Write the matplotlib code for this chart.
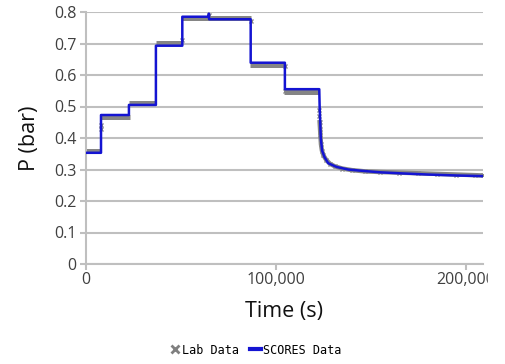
import matplotlib
matplotlib.use("Agg")
import matplotlib.pyplot as plt
from matplotlib.lines import Line2D
from matplotlib.patches import Rectangle
from matplotlib.ticker import FuncFormatter

# SCORES model output (s, bar)
scores_t = [0, 7900, 7900, 22600, 22600, 36800, 36800, 50700, 50700, 64600,
            64700, 64800, 86700, 86700, 104700, 104700, 122800,
            123000, 123300, 123600, 124300, 125500, 127500, 132000, 138000,
            145000, 155000, 165000, 180000, 195000, 209000]
scores_p = [0.353, 0.353, 0.473, 0.473, 0.505, 0.505, 0.693, 0.693, 0.785, 0.785,
            0.795, 0.777, 0.777, 0.639, 0.639, 0.555, 0.555,
            0.50, 0.45, 0.40, 0.36, 0.34, 0.32, 0.308, 0.300,
            0.296, 0.291, 0.288, 0.284, 0.281, 0.279]

# lab pressure holds: start, end, level
lab_start = [0, 7900, 22600, 36600, 50600, 86300, 104500]
lab_end = [7600, 23000, 36900, 50800, 86700, 104800, 122900]
lab_level = [0.359, 0.468, 0.512, 0.703, 0.780, 0.632, 0.547]

# lab samples taken during the jumps and the final blow-down
lab_t = [7900, 7900, 50700, 64700, 86700, 104700, 104700, 122800, 122900,
         123000, 123200, 123400, 123700, 124200, 125000, 126500, 128500,
         131000, 135000, 140000, 147000, 155000, 165000, 175000, 185000,
         195000, 205000, 209000]
lab_p = [0.43, 0.44, 0.71, 0.79, 0.77, 0.63, 0.55, 0.49, 0.47,
         0.45, 0.43, 0.41, 0.38, 0.36, 0.345, 0.33, 0.318,
         0.31, 0.303, 0.298, 0.294, 0.292, 0.290, 0.288, 0.286,
         0.284, 0.282, 0.281]

xticks = [0, 100000, 200000]
yticks = [0, 0.1, 0.2, 0.3, 0.4, 0.5, 0.6, 0.7, 0.8]

plt.rcParams['font.family'] = ['Open Sans', 'DejaVu Sans']

grid_c = '#bfbfbf'
lab_c = '#858585'
blue = '#1414d2'

fig = plt.figure(figsize=(5.06, 3.64), dpi=100)
ax = fig.add_axes([86/506, 1 - 264/364, (483 - 86)/506, (264 - 12)/364])

ax.hlines(lab_level, lab_start, lab_end, color=lab_c, lw=3.6, zorder=2)
ax.plot(lab_t, lab_p, color=lab_c, lw=0, marker='x', ms=3.5, mew=1.0, zorder=2)
ax.plot(lab_t[9:], lab_p[9:], color=lab_c, lw=3.2, zorder=2)
ax.plot(scores_t, scores_p, color=blue, lw=1.8, zorder=3)

ax.set_xlim(0, 209000)
ax.set_ylim(0, 0.8)
ax.set_xticks(xticks)
ax.set_yticks(yticks)
ax.xaxis.set_major_formatter(FuncFormatter(lambda v, p: f"{int(v):,}"))
ax.yaxis.set_major_formatter(FuncFormatter(lambda v, p: f"{v:g}"))

ax.grid(axis='y', color=grid_c, lw=1.5)
ax.set_axisbelow(True)
for s in ['top', 'right']:
    ax.spines[s].set_visible(False)
for s in ['left', 'bottom']:
    ax.spines[s].set_color(grid_c)
    ax.spines[s].set_linewidth(1.5)
ax.tick_params(colors=grid_c, labelcolor='#404040', labelsize=11.5,
               length=4, width=1.5)
ax.tick_params(axis='y', pad=3)
ax.tick_params(axis='x', pad=2)

ax.set_xlabel('Time (s)', fontsize=15.5, color='#111111', labelpad=9)
ax.set_ylabel('P (bar)', fontsize=15.5, color='#111111', labelpad=10)

handles = [Line2D([], [], color='#808080', lw=0, marker='x', ms=6, mew=2),
           Line2D([], [], color=blue, lw=3)]
fig.legend(handles, ['Lab Data', 'SCORES Data'], loc='center',
           bbox_to_anchor=(255/506, 1 - 350/364), ncol=2, frameon=False,
           handlelength=1.0, handletextpad=0.1, columnspacing=0.9,
           prop={'family': 'DejaVu Sans Mono', 'size': 8.5})

# chart area ends just past the plot, cutting off the last tick label
fig.patches.append(Rectangle((488/506, 0), 1, 1, transform=fig.transFigure,
                             color='white', zorder=10))

fig.savefig('out.png', dpi=100)
